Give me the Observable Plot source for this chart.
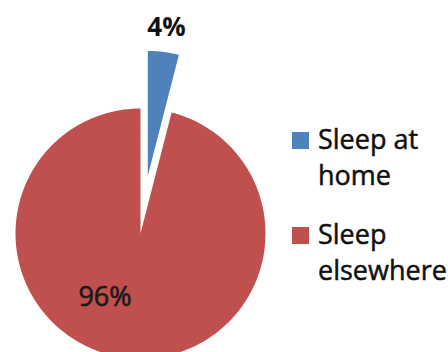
<!DOCTYPE html>
<html>
<head>
<meta charset="utf-8">
<script src="https://cdn.jsdelivr.net/npm/d3@7"></script>
<script src="https://cdn.jsdelivr.net/npm/@observablehq/plot@0.6"></script>
<style>
  html, body { margin: 0; padding: 0; background: #fff; }
  #wrap { position: relative; width: 448px; height: 352px; overflow: hidden; background: #fff; }
  #legend { position: absolute; left: 292px; top: 121px; font-family: "Open Sans", sans-serif; font-size: 27px; line-height: 36px; color: #111; white-space: nowrap; -webkit-text-stroke: 0.5px #111; }
  .item { display: flex; align-items: flex-start; }
  .item + .item { margin-top: 23px; }
  .sw { width: 17px; height: 17px; margin-top: 11px; margin-right: 9px; flex: none; }
</style>
</head>
<body>
<div id="wrap"><div id="legend"></div></div>
<script>
// Data
const categories = ["Sleep at home", "Sleep elsewhere"];
const legendLines = [["Sleep at", "home"], ["Sleep", "elsewhere"]];
const values = [4, 96];
const labels = ["4%", "96%"];
const colors = ["#4F81BD", "#C0504D"];

// Layout (not data)
const explode = [0.464, 0];
const labelRadius = [1.66, 0.588];
const labelAngleDeg = [null, 208.9];

const arcs = d3.pie().sort(null).value(d => d)(values);
const points = [];
const labelData = [];
arcs.forEach((a, i) => {
  const mid = (a.startAngle + a.endAngle) / 2;
  const ox = explode[i] * Math.sin(mid), oy = explode[i] * Math.cos(mid);
  const key = categories[i];
  points.push({key, x: ox, y: oy});
  const n = 180;
  for (let k = 0; k <= n; k++) {
    const t = a.startAngle + (a.endAngle - a.startAngle) * k / n;
    points.push({key, x: ox + Math.sin(t), y: oy + Math.cos(t)});
  }
  points.push({key, x: ox, y: oy});
  const la = labelAngleDeg[i] == null ? mid : labelAngleDeg[i] * Math.PI / 180;
  labelData.push({i, text: labels[i], x: labelRadius[i] * Math.sin(la), y: labelRadius[i] * Math.cos(la)});
});

const chart = Plot.plot({
  width: 448,
  height: 352,
  margin: 0,
  x: {domain: [-1.12, 2.464], axis: null},
  y: {domain: [-0.952, 1.864], axis: null},
  color: {domain: categories, range: colors},
  style: {background: "white"},
  marks: [
    Plot.line(points, {x: "x", y: "y", z: "key", fill: "key", stroke: "none"}),
    Plot.text(labelData.filter(d => d.i === 0), {x: "x", y: "y", text: "text", fontFamily: "Open Sans", fontSize: 26, fontWeight: "bold", fill: "#111"}),
    Plot.text(labelData.filter(d => d.i === 1), {x: "x", y: "y", text: "text", fontFamily: "Open Sans", fontSize: 27, fill: "#1a1a1a", stroke: "#1a1a1a", strokeWidth: 0.6})
  ]
});
const wrap = document.getElementById("wrap");
wrap.insertBefore(chart, wrap.firstChild);

const legend = document.getElementById("legend");
categories.forEach((c, i) => {
  const item = document.createElement("div");
  item.className = "item";
  const sw = document.createElement("div");
  sw.className = "sw";
  sw.style.background = colors[i];
  const txt = document.createElement("div");
  txt.innerHTML = legendLines[i].join("<br>");
  item.appendChild(sw);
  item.appendChild(txt);
  legend.appendChild(item);
});
</script>
</body>
</html>
